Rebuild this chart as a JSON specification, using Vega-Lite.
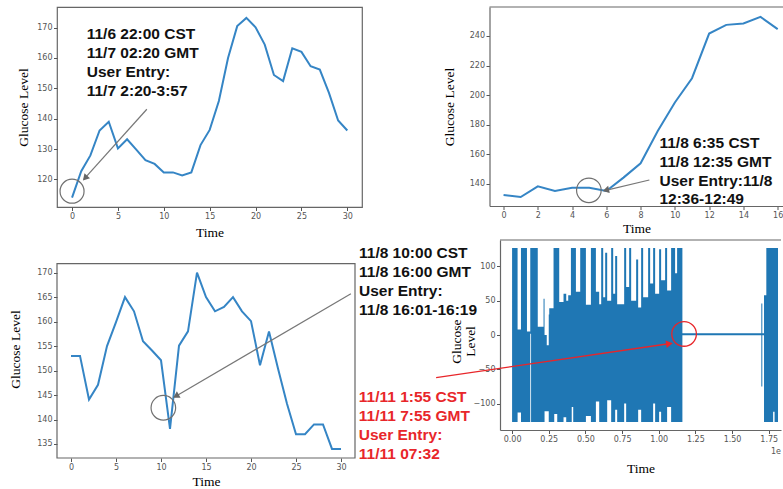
{
  "$schema": "https://vega.github.io/schema/vega-lite/v6.json",
  "background": "white",
  "padding": {"left": 8, "top": 6, "right": 0, "bottom": 0},
  "spacing": -3,
  "config": {
    "view": {"stroke": "#666", "strokeWidth": 1.2},
    "axis": {
      "labelFont": "DejaVu Sans", "labelFontSize": 8, "labelColor": "#555",
      "tickColor": "#555", "tickSize": 3.5, "tickWidth": 1, "labelPadding": 1.5, "tickCount": 40,
      "labelOverlap": false, "labelFlush": false,
      "titleFont": "Liberation Serif", "titleFontSize": 13.5, "titleFontWeight": "normal", "titleColor": "#000",
      "grid": false, "domainColor": "#666", "domainWidth": 1.2
    },
    "axisX": {"labelPadding": 2}
  },
  "vconcat": [
    {
      "bounds": "flush",
      "spacing": 127.5,
      "hconcat": [
        {
          "width": 305, "height": 200,
          "data": {"values": [
            {"time":0,"glucose":114},{"time":1,"glucose":122.7},{"time":2,"glucose":127.9},{"time":3,"glucose":136.1},
            {"time":4,"glucose":139},{"time":5,"glucose":130.2},{"time":6,"glucose":133.2},{"time":7,"glucose":129.8},
            {"time":8,"glucose":126.3},{"time":9,"glucose":125.1},{"time":10,"glucose":122.3},{"time":11,"glucose":122.3},
            {"time":12,"glucose":121.3},{"time":13,"glucose":122.3},{"time":14,"glucose":131.3},{"time":15,"glucose":136.3},
            {"time":16,"glucose":145.8},{"time":17,"glucose":160},{"time":18,"glucose":170.5},{"time":19,"glucose":173.2},
            {"time":20,"glucose":170.1},{"time":21,"glucose":164.4},{"time":22,"glucose":154.4},{"time":23,"glucose":152.4},
            {"time":24,"glucose":163.2},{"time":25,"glucose":162},{"time":26,"glucose":157.3},{"time":27,"glucose":156.2},
            {"time":28,"glucose":148.5},{"time":29,"glucose":139.4},{"time":30,"glucose":136.1}
          ]},
          "layer": [
            {
              "mark": {"type": "line", "color": "#3585c5", "strokeWidth": 2},
              "encoding": {
                "x": {"field": "time", "type": "quantitative",
                      "scale": {"domain": [-1.64, 31.6], "nice": false, "zero": false},
                      "axis": {"values": [0,5,10,15,20,25,30], "tickCount": 40, "format": "d", "title": "Time", "domain": false, "titlePadding": 4.5}},
                "y": {"field": "glucose", "type": "quantitative",
                      "scale": {"domain": [110.9, 176.8], "nice": false, "zero": false},
                      "axis": {"values": [120,130,140,150,160,170], "tickCount": 40, "format": "d", "title": "Glucose Level", "domain": false, "titlePadding": 6.4}}
              }
            },
            {
              "data": {"values": [{}]},
              "mark": {"type": "point", "shape": "circle", "size": 576, "filled": false, "color": "#707070", "strokeWidth": 1.2, "opacity": 1},
              "encoding": {"x": {"datum": 0}, "y": {"datum": 116.1}}
            },
            {
              "data": {"values": [{}]},
              "mark": {"type": "rule", "color": "#777", "strokeWidth": 1.2},
              "encoding": {"x": {"datum": 8.15}, "y": {"datum": 143.1}, "x2": {"datum": 1.3}, "y2": {"datum": 120.1}}
            },
            {
              "data": {"values": [{}]},
              "mark": {"type": "point", "shape": "triangle-up", "size": 55, "filled": true, "color": "#666", "angle": 222, "opacity": 1},
              "encoding": {"x": {"datum": 1.42}, "y": {"datum": 120.4}}
            },
            {
              "data": {"values": [{}]},
              "mark": {"type": "text", "text": ["11/6 22:00 CST", "11/7 02:20 GMT", "User Entry:", "11/7 2:20-3:57"],
                       "align": "left", "baseline": "alphabetic", "font": "Liberation Sans", "fontWeight": "bold",
                       "fontSize": 15.5, "lineHeight": 19, "color": "#111"},
              "encoding": {"x": {"datum": 1.6}, "y": {"datum": 166.2}}
            }
          ]
        },
        {
          "width": 294, "height": 199,
          "view": {"stroke": null},
          "data": {"values": [
            {"time":0,"glucose":132.4},{"time":1,"glucose":131},{"time":2,"glucose":138.2},{"time":3,"glucose":135.1},
            {"time":4,"glucose":137.3},{"time":5,"glucose":137.3},{"time":6,"glucose":135.1},{"time":7,"glucose":144.1},
            {"time":8,"glucose":153.8},{"time":9,"glucose":175.7},{"time":10,"glucose":195},{"time":11,"glucose":211.4},
            {"time":12,"glucose":241.6},{"time":13,"glucose":247.5},{"time":14,"glucose":248.4},{"time":15,"glucose":252.9},
            {"time":16,"glucose":244.6}
          ]},
          "layer": [
            {
              "mark": {"type": "line", "color": "#3585c5", "strokeWidth": 2},
              "encoding": {
                "x": {"field": "time", "type": "quantitative",
                      "scale": {"domain": [-0.82, 16.34], "nice": false, "zero": false},
                      "axis": {"values": [0,2,4,6,8,10,12,14,16], "tickCount": 40, "format": "d", "title": "Time", "domain": true, "titlePadding": 1.8}},
                "y": {"field": "glucose", "type": "quantitative",
                      "scale": {"domain": [124.9, 259.6], "nice": false, "zero": false},
                      "axis": {"values": [140,160,180,200,220,240], "tickCount": 40, "format": "d", "title": "Glucose Level", "domain": true, "titlePadding": 12.9}}
              }
            },
            {
              "data": {"values": [{}]},
              "mark": {"type": "rule", "color": "#666", "strokeWidth": 1.2},
              "encoding": {"y": {"datum": 259.6}}
            },
            {
              "data": {"values": [{}]},
              "mark": {"type": "point", "shape": "circle", "size": 605, "filled": false, "color": "#707070", "strokeWidth": 1.2, "opacity": 1},
              "encoding": {"x": {"datum": 4.98}, "y": {"datum": 135.5}}
            },
            {
              "data": {"values": [{}]},
              "mark": {"type": "rule", "color": "#777", "strokeWidth": 1.2},
              "encoding": {"x": {"datum": 8.51}, "y": {"datum": 142.5}, "x2": {"datum": 5.9}, "y2": {"datum": 135.3}}
            },
            {
              "data": {"values": [{}]},
              "mark": {"type": "point", "shape": "triangle-up", "size": 55, "filled": true, "color": "#666", "angle": 257, "opacity": 1},
              "encoding": {"x": {"datum": 5.97}, "y": {"datum": 135.6}}
            },
            {
              "data": {"values": [{}]},
              "mark": {"type": "text", "text": ["11/8 6:35 CST", "11/8 12:35 GMT", "User Entry:11/8", "12:36-12:49"],
                       "align": "left", "baseline": "alphabetic", "font": "Liberation Sans", "fontWeight": "bold",
                       "fontSize": 15.5, "lineHeight": 18.7, "color": "#111"},
              "encoding": {"x": {"datum": 9.1}, "y": {"datum": 164.0}}
            }
          ]
        }
      ]
    },
    {
      "bounds": "flush",
      "spacing": 145,
      "hconcat": [
        {
          "width": 298, "height": 218,
          "view": {"stroke": null},
          "data": {"values": [
            {"time":0,"glucose":153},{"time":1,"glucose":153},{"time":2,"glucose":144.1},{"time":3,"glucose":147.1},
            {"time":4,"glucose":155},{"time":5,"glucose":159.9},{"time":6,"glucose":165},{"time":7,"glucose":162.1},
            {"time":8,"glucose":156},{"time":9,"glucose":154.1},{"time":10,"glucose":152.1},{"time":11,"glucose":138.1},
            {"time":12,"glucose":155.1},{"time":13,"glucose":158},{"time":14,"glucose":170},{"time":15,"glucose":165},
            {"time":16,"glucose":162.1},{"time":17,"glucose":163},{"time":18,"glucose":165},{"time":19,"glucose":162.1},
            {"time":20,"glucose":160.1},{"time":21,"glucose":151.1},{"time":22,"glucose":158},{"time":23,"glucose":150.4},
            {"time":24,"glucose":143.2},{"time":25,"glucose":137},{"time":26,"glucose":137},{"time":27,"glucose":139},
            {"time":28,"glucose":139},{"time":29,"glucose":134},{"time":30,"glucose":134}
          ]},
          "layer": [
            {
              "mark": {"type": "line", "color": "#3585c5", "strokeWidth": 2},
              "encoding": {
                "x": {"field": "time", "type": "quantitative",
                      "scale": {"domain": [-1.556, 31.556], "nice": false, "zero": false},
                      "axis": {"values": [0,5,10,15,20,25,30], "tickCount": 40, "format": "d", "title": "Time", "domain": false, "titlePadding": 2.5}},
                "y": {"field": "glucose", "type": "quantitative",
                      "scale": {"domain": [132.14, 176.67], "nice": false, "zero": false},
                      "axis": {"values": [135,140,145,150,155,160,165,170], "tickCount": 40, "format": "d", "title": "Glucose Level", "domain": false, "titlePadding": 13.9}}
              }
            },
            {
              "data": {"values": [{}]},
              "mark": {"type": "rect", "fillOpacity": 0, "stroke": "#666", "strokeWidth": 1.2},
              "encoding": {"x": {"datum": -1.556}, "x2": {"datum": 31.556}, "y": {"datum": 132.14}, "y2": {"datum": 171.84}}
            },
            {
              "data": {"values": [{}]},
              "mark": {"type": "point", "shape": "circle", "size": 605, "filled": false, "color": "#707070", "strokeWidth": 1.2, "opacity": 1},
              "encoding": {"x": {"datum": 10.26}, "y": {"datum": 142.4}}
            },
            {
              "data": {"values": [{}]},
              "mark": {"type": "rule", "color": "#777", "strokeWidth": 1.2},
              "encoding": {"x": {"datum": 31.1}, "y": {"datum": 165.7}, "x2": {"datum": 11.5}, "y2": {"datum": 144.6}}
            },
            {
              "data": {"values": [{}]},
              "mark": {"type": "point", "shape": "triangle-up", "size": 55, "filled": true, "color": "#666", "angle": 240, "opacity": 1},
              "encoding": {"x": {"datum": 11.66}, "y": {"datum": 144.8}}
            },
            {
              "data": {"values": [{}]},
              "mark": {"type": "text", "text": ["11/8 10:00 CST", "11/8 16:00 GMT", "User Entry:", "11/8 16:01-16:19"],
                       "align": "left", "baseline": "alphabetic", "font": "Liberation Sans", "fontWeight": "bold",
                       "fontSize": 15.5, "lineHeight": 19, "color": "#111"},
              "encoding": {"x": {"datum": 32.0}, "y": {"datum": 172.9}}
            }
          ]
        },
        {
          "width": 281, "height": 190,
          "view": {"stroke": null},
          "data": {"values": [
            {"t":0.0,"lo":-127,"hi":127},{"t":0.0375,"lo":-113,"hi":8},{"t":0.0606,"lo":-127,"hi":127},
            {"t":0.1015,"lo":-127,"hi":5},{"t":0.124,"lo":2,"hi":127},{"t":0.1294,"lo":-127,"hi":127},
            {"t":0.1751,"lo":-127,"hi":12},{"t":0.2146,"lo":-127,"hi":53},{"t":0.2214,"lo":-111,"hi":0},
            {"t":0.2364,"lo":-111,"hi":-15},{"t":0.25,"lo":-127,"hi":30},{"t":0.2534,"lo":-127,"hi":39},
            {"t":0.2827,"lo":-127,"hi":127},{"t":0.2875,"lo":-115,"hi":127},{"t":0.3079,"lo":-127,"hi":127},
            {"t":0.3215,"lo":-127,"hi":48},{"t":0.3508,"lo":-120,"hi":60},{"t":0.3692,"lo":-127,"hi":50},
            {"t":0.3828,"lo":-127,"hi":58},{"t":0.4012,"lo":-127,"hi":127},{"t":0.4067,"lo":-105,"hi":127},
            {"t":0.4169,"lo":-127,"hi":127},{"t":0.4353,"lo":-127,"hi":63},{"t":0.4646,"lo":-127,"hi":127},
            {"t":0.5034,"lo":-118,"hi":44},{"t":0.5375,"lo":-127,"hi":127},{"t":0.5715,"lo":-97,"hi":63},
            {"t":0.594,"lo":-127,"hi":45},{"t":0.6076,"lo":-127,"hi":127},{"t":0.6213,"lo":-127,"hi":55},
            {"t":0.6349,"lo":-127,"hi":120},{"t":0.6485,"lo":-95,"hi":50},{"t":0.6757,"lo":-127,"hi":127},
            {"t":0.6894,"lo":-127,"hi":60},{"t":0.703,"lo":-109,"hi":115},{"t":0.7166,"lo":-127,"hi":45},
            {"t":0.7643,"lo":-100,"hi":127},{"t":0.7779,"lo":-127,"hi":70},{"t":0.7984,"lo":-127,"hi":127},
            {"t":0.812,"lo":-127,"hi":50},{"t":0.846,"lo":-127,"hi":110},{"t":0.8597,"lo":-109,"hi":40},
            {"t":0.8801,"lo":-127,"hi":127},{"t":0.8937,"lo":-127,"hi":55},{"t":0.9278,"lo":-127,"hi":127},
            {"t":0.9414,"lo":-127,"hi":75},{"t":0.9619,"lo":-100,"hi":127},{"t":0.9755,"lo":-127,"hi":60},
            {"t":1.0027,"lo":-112,"hi":125},{"t":1.0163,"lo":-127,"hi":80},{"t":1.0436,"lo":-127,"hi":127},
            {"t":1.0572,"lo":-105,"hi":65},{"t":1.0845,"lo":-127,"hi":127},{"t":1.1117,"lo":-127,"hi":90},
            {"t":1.1253,"lo":-127,"hi":127},{"t":1.1614,"lo":-0.5,"hi":2.5},{"t":1.6996,"lo":-75,"hi":46},
            {"t":1.7064,"lo":-0.5,"hi":2.5},{"t":1.718,"lo":-127,"hi":58},{"t":1.7337,"lo":-127,"hi":127},
            {"t":1.78,"lo":-112,"hi":127},{"t":1.79,"lo":-127,"hi":127},{"t":1.8134,"lo":-127,"hi":127}
          ]},
          "layer": [
            {
              "mark": {"type": "area", "interpolate": "step-after", "color": "#1f77b4", "opacity": 1},
              "encoding": {
                "x": {"field": "t", "type": "quantitative",
                      "scale": {"domain": [-0.0824, 1.8338], "nice": false, "zero": false},
                      "axis": {"values": [0,0.25,0.5,0.75,1,1.25,1.5,1.75], "tickCount": 40, "format": ".2f", "title": "Time", "domain": true, "titlePadding": 17.7}},
                "y": {"field": "lo", "type": "quantitative",
                      "scale": {"domain": [-138.5, 138.5], "nice": false, "zero": false},
                      "axis": {"values": [-100,-50,0,50,100], "tickCount": 40, "format": "d", "title": ["Glucose", "Level"], "titleLineHeight": 14, "titleY": 101, "domain": true, "titlePadding": -4.8}},
                "y2": {"field": "hi"}
              }
            },
            {
              "data": {"values": [{}]},
              "mark": {"type": "rule", "color": "#666", "strokeWidth": 1.2},
              "encoding": {"y": {"datum": 138.5}}
            },
            {
              "data": {"values": [{}]},
              "mark": {"type": "point", "shape": "circle", "size": 605, "filled": false, "color": "#e8262a", "strokeWidth": 1.3, "opacity": 1},
              "encoding": {"x": {"datum": 1.173}, "y": {"datum": 1.5}}
            },
            {
              "data": {"values": [{}]},
              "mark": {"type": "rule", "color": "#e8262a", "strokeWidth": 1.3},
              "encoding": {"x": {"datum": -0.518}, "y": {"datum": -62.2}, "x2": {"datum": 1.08}, "y2": {"datum": -12.4}}
            },
            {
              "data": {"values": [{}]},
              "mark": {"type": "point", "shape": "triangle-up", "size": 60, "filled": true, "color": "#e8262a", "angle": 82, "opacity": 1},
              "encoding": {"x": {"datum": 1.073}, "y": {"datum": -12.8}}
            },
            {
              "data": {"values": [{}]},
              "mark": {"type": "text", "text": ["11/11 1:55 CST", "11/11 7:55 GMT", "User Entry:", "11/11 07:32"],
                       "align": "left", "baseline": "alphabetic", "font": "Liberation Sans", "fontWeight": "bold",
                       "fontSize": 15.5, "lineHeight": 18.9, "color": "#e8262a"},
              "encoding": {"x": {"datum": -1.0456}, "y": {"datum": -98.0}}
            },
            {
              "data": {"values": [{}]},
              "mark": {"type": "text", "text": "1e", "align": "right", "baseline": "middle", "font": "DejaVu Sans", "fontSize": 8, "color": "#555"},
              "encoding": {"x": {"datum": 1.8338}, "y": {"datum": -170}}
            }
          ]
        }
      ]
    }
  ]
}
